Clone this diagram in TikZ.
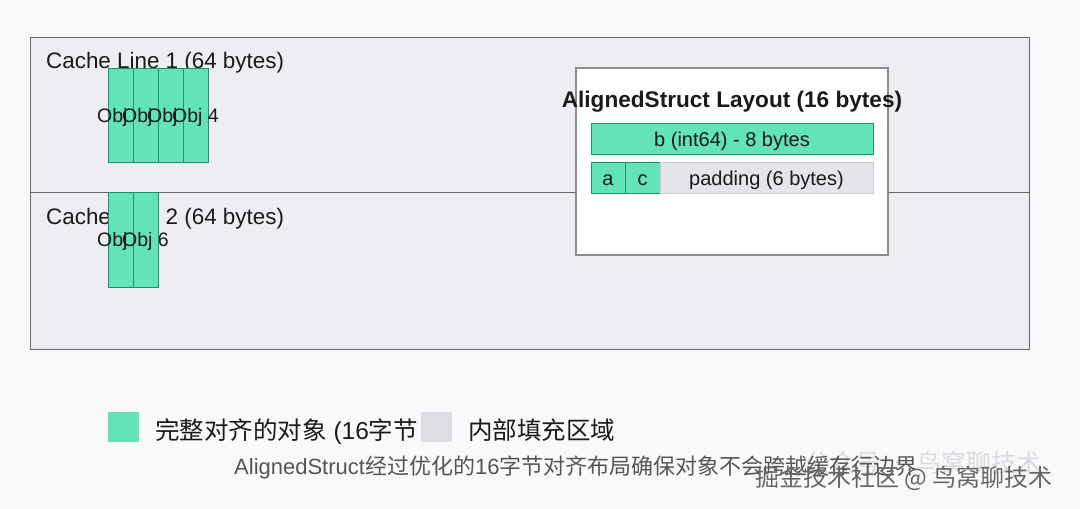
\documentclass[tikz,border=0pt]{standalone}
\usepackage{fontspec}
\setmainfont{Liberation Sans}
\newfontfamily\cjk{Noto Sans CJK SC}
\definecolor{pagebg}{HTML}{F8F9FA}
\definecolor{linefill}{HTML}{ECEEF1}
\definecolor{lineedge}{HTML}{666666}
\definecolor{objfill}{HTML}{62E3B9}
\definecolor{objedge}{HTML}{17966A}
\definecolor{padfill}{HTML}{E3E5E8}
\definecolor{padedge}{HTML}{C9CCD0}
\definecolor{legray}{HTML}{DCDEE1}
\definecolor{txt}{HTML}{1A1A1A}
\definecolor{captxt}{HTML}{555555}
\definecolor{wmfaint}{HTML}{D9DBDE}
\definecolor{wmtxt}{HTML}{666666}
\begin{document}
\begin{tikzpicture}[x=1pt,y=-1pt,
  cell/.style={draw=objedge, fill=objfill, line width=1pt, inner sep=0pt},
  padcell/.style={draw=padedge, fill=padfill, line width=1pt, inner sep=0pt},
  objlbl/.style={anchor=base, inner sep=0pt, text=txt, font=\fontsize{19.5}{22}\selectfont},
  boxlbl/.style={anchor=base, inner sep=0pt, text=txt, font=\fontsize{20}{24}\selectfont},
  linelbl/.style={anchor=base west, inner sep=0pt, text=txt, font=\fontsize{22.4}{26}\selectfont},
  legsq/.style={inner sep=0pt, minimum width=31pt, minimum height=30pt},
  legtxt/.style={anchor=base west, inner sep=0pt, text=txt, font=\fontsize{24.5}{28}\selectfont}
]
\useasboundingbox[fill=pagebg] (0,0) rectangle (1080,509);

% cache lines area
\node[draw=lineedge, fill=linefill, line width=1pt, inner sep=0pt,
      minimum width=999pt, minimum height=312pt] (area) at (529.5,193) {};
\coordinate (divL) at (30,192);
\coordinate (divR) at (1029,192);
\draw[lineedge, line width=1pt] (divL) -- (divR);

\node[linelbl] (cl1) at (46,68) {Cache Line 1 (64 bytes)};
\node[linelbl] (cl2) at (46,224) {Cache Line 2 (64 bytes)};

% cache line 1 objects
\node[cell, minimum width=25pt, minimum height=94pt] (o1) at (120.5,115) {};
\node[objlbl] (t1) at (120.5,122.5) {Obj 1};
\node[cell, minimum width=25pt, minimum height=94pt] (o2) at (145.5,115) {};
\node[objlbl] (t2) at (145.5,122.5) {Obj 2};
\node[cell, minimum width=25pt, minimum height=94pt] (o3) at (170.5,115) {};
\node[objlbl] (t3) at (170.5,122.5) {Obj 3};
\node[cell, minimum width=25pt, minimum height=94pt] (o4) at (195.5,115) {};
\node[objlbl] (t4) at (195.5,122.5) {Obj 4};

% cache line 2 objects
\node[cell, minimum width=25pt, minimum height=95pt] (o5) at (120.5,239.5) {};
\node[objlbl] (t5) at (120.5,246.5) {Obj 5};
\node[cell, minimum width=25pt, minimum height=95pt] (o6) at (145.5,239.5) {};
\node[objlbl] (t6) at (145.5,246.5) {Obj 6};

% struct layout box
\node[draw=black!45, fill=white, line width=1.5pt, inner sep=0pt,
      minimum width=312pt, minimum height=187pt] (layout) at (732,161.5) {};
\node[anchor=base, inner sep=0pt, text=txt, font=\fontsize{22.6}{26}\selectfont\bfseries]
      (title) at (732,107) {AlignedStruct Layout (16 bytes)};

\node[cell, minimum width=282pt, minimum height=31pt] (fb) at (732,138.5) {};
\node[boxlbl] (tb) at (732,146) {b (int64) - 8 bytes};

\node[cell, minimum width=34pt, minimum height=31pt] (fa) at (608,177.5) {};
\node[boxlbl] (ta) at (608,185) {a};
\node[cell, minimum width=35pt, minimum height=31pt] (fc) at (642.5,177.5) {};
\node[boxlbl] (tc) at (642.5,185) {c};
\node[padcell, minimum width=213pt, minimum height=31pt] (fp) at (766.5,177.5) {};
\node[boxlbl] (tp) at (766.5,185) {padding (6 bytes)};

% legend
\node[legsq, fill=objfill] (lg1) at (123.5,427) {};
\node[legtxt] (lt1) at (155,439) {{\cjk 完整对齐的对象} (16{\cjk 字节}};
\node[legsq, fill=legray] (lg2) at (436.5,427) {};
\node[legtxt] (lt2) at (468,439) {\cjk 内部填充区域};

% faint watermark
\node[anchor=base east, inner sep=0pt, text=wmfaint, font=\fontsize{25}{28}\selectfont\cjk]
      (wm1) at (1042,472) {公众号 · 鸟窝聊技术};

% caption
\node[anchor=base west, inner sep=0pt, text=captxt, font=\fontsize{22}{26}\selectfont]
      (cap) at (234,474) {AlignedStruct{\cjk 经过优化的}16{\cjk 字节对齐布局确保对象不会跨越缓存行边界}};

% watermark
\node[anchor=base west, inner sep=0pt, text=wmtxt, font=\fontsize{24}{28}\selectfont\cjk]
      (wm2) at (755,486) {掘金技术社区 @ 鸟窝聊技术};
\end{tikzpicture}
\end{document}
